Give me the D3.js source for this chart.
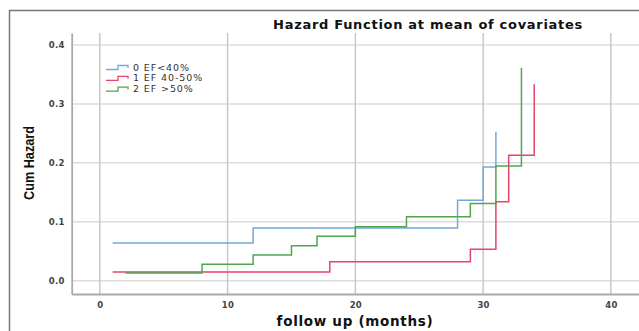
<!DOCTYPE html>
<html>
<head>
<meta charset="utf-8">
<style>
  body { margin: 0; background: white; }
  svg text { font-family: "DejaVu Sans", Verdana, sans-serif; }
</style>
</head>
<body>
<div id="chart"></div>
<script src="https://cdn.jsdelivr.net/npm/d3@7"></script>
<script>
  // step points [month, cum hazard]
  const ef40 = [[1, 0.064], [12, 0.0895], [28, 0.1365], [30, 0.193], [31, 0.253]];
  const ef4050 = [[1, 0.0148], [18, 0.0323], [29, 0.0533], [31, 0.134], [32, 0.213], [34, 0.3335]];
  const ef50 = [[2, 0.013], [8, 0.0278], [12, 0.0436], [15, 0.0594], [17, 0.0754], [20, 0.0917],
                [24, 0.1087], [29, 0.131], [31, 0.1947], [33, 0.3616]];
  const seriesNames = ["0 EF<40%", "1 EF 40-50%", "2 EF >50%"];
  const xTicks = [0, 10, 20, 30, 40];
  const yTicks = [0.0, 0.1, 0.2, 0.3, 0.4];

  const series = [
    { name: seriesNames[0], pts: ef40, color: "#74a9dc" },
    { name: seriesNames[1], pts: ef4050, color: "#e8436a" },
    { name: seriesNames[2], pts: ef50, color: "#4fa64f" }
  ];

  const width = 639, height = 331;
  const svg = d3.select("#chart").append("svg")
    .attr("width", width).attr("height", height);

  const x = d3.scaleLinear().domain([-2.2, 42.2]).range([71.7, 639]);
  const y = d3.scaleLinear().domain([-0.0226, 0.4204]).range([294, 33]);

  // outer frame
  svg.append("path")
    .attr("d", "M9.5,331 V10.5 H639")
    .attr("fill", "none").attr("stroke", "#777").attr("stroke-width", 1.5);

  // grid
  svg.append("g").selectAll("line").data(yTicks).join("line")
    .attr("x1", x.range()[0]).attr("x2", width)
    .attr("y1", d => y(d)).attr("y2", d => y(d))
    .attr("stroke", "#dcdcdc").attr("stroke-width", 1.5);
  svg.append("g").selectAll("line").data(xTicks).join("line")
    .attr("x1", d => x(d)).attr("x2", d => x(d))
    .attr("y1", y.range()[1]).attr("y2", y.range()[0])
    .attr("stroke", "#c8c8c8").attr("stroke-width", 1.5);

  // axes
  const xAxis = svg.append("g").attr("transform", `translate(0,${y.range()[0]})`)
    .call(d3.axisBottom(x).tickValues(xTicks).tickSize(0).tickPadding(8));
  const yAxis = svg.append("g").attr("transform", `translate(${x.range()[0]},0)`)
    .call(d3.axisLeft(y).tickValues(yTicks).tickFormat(d3.format(".1f")).tickSize(0).tickPadding(7));
  [xAxis, yAxis].forEach(a => {
    a.select(".domain").attr("stroke", "#aaa").attr("stroke-width", 1.8);
    a.selectAll("text").attr("font-family", "DejaVu Sans").attr("font-weight", "bold")
      .attr("font-size", "8.5px").attr("letter-spacing", "0.3px").attr("fill", "#444");
  });

  // step lines
  const line = d3.line().x(d => x(d[0])).y(d => y(d[1])).curve(d3.curveStepAfter);
  series.forEach(s => {
    svg.append("path").datum(s.pts)
      .attr("d", line)
      .attr("fill", "none").attr("stroke", s.color).attr("stroke-width", 1.5);
  });

  // title and labels
  svg.append("text").attr("x", 428).attr("y", 29).attr("text-anchor", "middle")
    .attr("font-weight", "bold").attr("font-size", "13px").attr("letter-spacing", "0.7px")
    .attr("fill", "#111")
    .text("Hazard Function at mean of covariates");
  svg.append("text").attr("x", 355).attr("y", 326).attr("text-anchor", "middle")
    .attr("font-weight", "bold").attr("font-size", "13.5px").attr("letter-spacing", "0.7px")
    .attr("fill", "#111")
    .text("follow up (months)");
  svg.append("text")
    .attr("transform", "translate(33.5,163) rotate(-90)")
    .attr("text-anchor", "middle")
    .style("font-family", "'Liberation Sans Narrow', 'Liberation Sans', sans-serif")
    .attr("font-weight", "bold").attr("font-size", "15px").attr("fill", "#111")
    .attr("textLength", 74).attr("lengthAdjust", "spacingAndGlyphs")
    .text("Cum Hazard");

  // legend
  const legend = svg.append("g").attr("transform", "translate(106,67)");
  series.forEach((s, i) => {
    const g = legend.append("g").attr("transform", `translate(0,${i * 10.8})`);
    g.append("path").attr("d", "M0,2.5 H12 V-1.5 H22 V1")
      .attr("fill", "none").attr("stroke", s.color).attr("stroke-width", 1.3);
    g.append("text").attr("x", 27).attr("y", 3.5).attr("font-size", "9.5px")
      .attr("letter-spacing", "0.9px").attr("fill", "#333")
      .text(s.name);
  });
</script>
</body>
</html>
